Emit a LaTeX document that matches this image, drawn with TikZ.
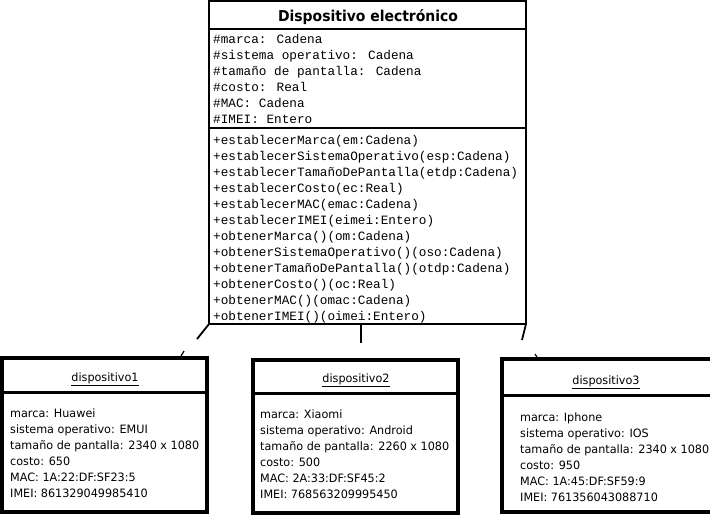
\documentclass[tikz,border=0pt]{standalone}
\usepackage{fontspec}
\newfontfamily\monof{Liberation Mono}
\newfontfamily\sansf[FakeStretch=0.975]{DejaVu Sans}
\newfontfamily\titlef[FakeStretch=0.93]{DejaVu Sans Bold}
\tikzset{
  classbox/.style={draw, line width=2pt, rectangle, inner sep=0, outer sep=0, anchor=north west},
  objbox/.style={draw, line width=4pt, rectangle, inner sep=0, outer sep=0, anchor=north west},
  sepline/.style={line width=1.5pt},
  objsep/.style={line width=3pt},
  attr/.style={anchor=base west, inner sep=0, font={\monof\fontsize{12.7}{16}\selectfont}},
  objtxt/.style={anchor=base west, inner sep=0, font={\sansf\fontsize{11.5}{16}\selectfont}},
  objtitle/.style={anchor=base, inner sep=0, font={\sansf\fontsize{11.5}{16}\selectfont}},
  conn/.style={line width=1.8pt},
}
\begin{document}
\begin{tikzpicture}[x=1pt,y=-1pt]
\useasboundingbox[fill=white] (0,0) rectangle (710,515);
\begin{scope}
\clip (0,0) rectangle (710,515);
% class box
\node[classbox, minimum width=317pt, minimum height=323pt] (cls) at (209,1) {};
\coordinate (s1) at (209,29);
\coordinate (s2) at (209,128);
\draw[sepline] (s1) -- (s1 -| cls.east);
\draw[sepline] (s2) -- (s2 -| cls.east);
\node[anchor=base, inner sep=0, font={\titlef\fontsize{15}{18}\selectfont}] (ttl) at (368,21) {Dispositivo electrónico};
\foreach \t [count=\i] in {\#marca: Cadena,\#sistema operativo: Cadena,\#tamaño de pantalla: Cadena,\#costo: Real,\#MAC: Cadena,\#IMEI: Entero}
  \node[attr] (a\i) at (213,{27+16*\i}) {\t};
\foreach \t [count=\i] in {+establecerMarca(em:Cadena),+establecerSistemaOperativo(esp:Cadena),+establecerTamañoDePantalla(etdp:Cadena),+establecerCosto(ec:Real),+establecerMAC(emac:Cadena),+establecerIMEI(eimei:Entero),+obtenerMarca()(om:Cadena),+obtenerSistemaOperativo()(oso:Cadena),+obtenerTamañoDePantalla()(otdp:Cadena),+obtenerCosto()(oc:Real),+obtenerMAC()(omac:Cadena),+obtenerIMEI()(oimei:Entero)}
  \node[attr] (m\i) at (213,{128+16*\i}) {\t};
% object boxes
\node[objbox, minimum width=205pt, minimum height=154pt] (o1) at (2,358) {};
\node[objbox, minimum width=205pt, minimum height=153pt] (o2) at (253,360) {};
\node[objbox, minimum width=214pt, minimum height=153pt] (o3) at (502,359) {};
\coordinate (p1) at (2,392);
\coordinate (p2) at (253,393);
\coordinate (p3) at (502,395);
\draw[objsep] (p1) -- (p1 -| o1.east);
\draw[objsep] (p2) -- (p2 -| o2.east);
\draw[objsep] (p3) -- (p3 -| o3.east);
\node[objtitle] (t1) at (105,381) {\underline{dispositivo1}};
\node[objtitle] (t2) at (356,382) {\underline{dispositivo2}};
\node[objtitle] (t3) at (606,384) {\underline{dispositivo3}};
\foreach \t [count=\i] in {marca: Huawei,sistema operativo: EMUI,tamaño de pantalla: 2340 x 1080,costo: 650,MAC: 1A:22:DF:SF23:5,IMEI: 861329049985410}
  \node[objtxt] (x\i) at (10,{401+16*\i}) {\t};
\foreach \t [count=\i] in {marca: Xiaomi,sistema operativo: Android,tamaño de pantalla: 2260 x 1080,costo: 500,MAC: 2A:33:DF:SF45:2,IMEI: 768563209995450}
  \node[objtxt] (y\i) at (260,{402+16*\i}) {\t};
\foreach \t [count=\i] in {marca: Iphone,sistema operativo: IOS,tamaño de pantalla: 2340 x 1080,costo: 950,MAC: 1A:45:DF:SF59:9,IMEI: 761356043088710}
  \node[objtxt] (z\i) at (520,{405+16*\i}) {\t};
% connectors
\coordinate (c1) at (197,339);
\coordinate (c2) at (361,343);
\coordinate (c3) at (522,340);
\coordinate (cm) at (361,324);
\coordinate (k1a) at (184,351);
\coordinate (k1b) at (181,356);
\coordinate (k3a) at (535,354);
\coordinate (k3b) at (537,357);
\draw[conn] (cls.south west) -- (c1);
\draw[conn] (cm) -- (c2);
\draw[conn] (cls.south east) -- (c3);
\draw[line width=1.2pt] (k1a) -- (k1b);
\draw[line width=1.2pt] (k3a) -- (k3b);
\end{scope}
\end{tikzpicture}
\end{document}
